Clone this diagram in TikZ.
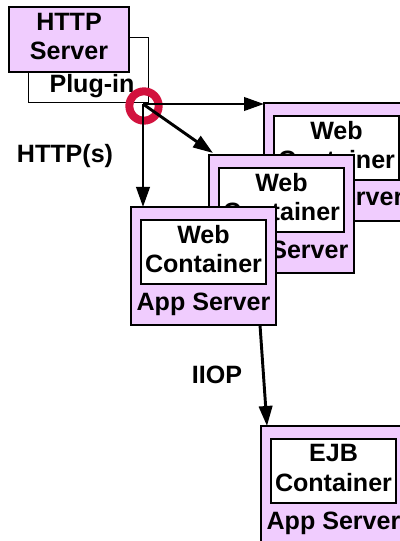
\documentclass[tikz,border=0pt]{standalone}
\usepackage{fontspec}
\setmainfont{Liberation Sans}
\usepackage{tikz}
\usetikzlibrary{arrows.meta,positioning,calc}
\usepackage{xcolor}
\definecolor{srvfill}{HTML}{F0CCFE}
\definecolor{ringred}{HTML}{D2123E}

\tikzset{
    txt/.style={font=\bfseries\fontsize{18.8pt}{22pt}\selectfont},
    srvbox/.style={draw, line width=1.5pt, fill=srvfill, minimum width=108.75pt,
          minimum height=88.5pt, inner sep=0pt, outer sep=0pt},
    contbox/.style={draw, line width=1.5pt, fill=white, minimum width=93.75pt,
          minimum height=48pt, inner sep=0pt, outer sep=0pt, align=center,
          text depth=4.5pt, txt},
    ring/.style={draw=ringred, circle, line width=6pt, minimum size=22pt, inner sep=0pt},
    flow/.style={line width=2.2pt, -{Triangle[length=15pt,width=10pt]}},
}

\begin{document}
\begin{tikzpicture}[x=0.75pt, y=-0.75pt]
    \useasboundingbox (0,0) rectangle (399,541);

    % web server with its plug-in
    \node[draw, line width=0.75pt, fill=white, minimum width=90pt,
          minimum height=48.75pt, outer sep=0pt] (plugin) at (88,70.5) {};
    \node[txt, anchor=base] (pluglbl) at (92,93) {Plug-in};
    \node[srvbox, minimum width=90pt, minimum height=48.75pt, align=center,
          text depth=4.5pt, txt] (httpsrv) at (69,39.5) {HTTP\\Server};

    % cluster of app servers, back to front
    \node[srvbox] (srv3) at (336.5,162) {};
    \node[contbox, below=9.75pt of srv3.north] (web3) {Web\\Container};
    \node[txt, anchor=base] (srv3lbl) at ($(srv3.south)+(0,-15)$) {App Server};

    \node[srvbox] (srv2) at (281.5,214) {};
    \node[contbox, below=9.75pt of srv2.north] (web2) {Web\\Container};
    \node[txt, anchor=base] (srv2lbl) at ($(srv2.south)+(0,-15)$) {App Server};

    \node[srvbox] (srv1) at (203.5,266) {};
    \node[contbox, below=9.75pt of srv1.north] (web1) {Web\\Container};
    \node[txt, anchor=base] (srv1lbl) at ($(srv1.south)+(0,-15)$) {App Server};

    % EJB tier
    \node[srvbox] (ejbsrv) at (333.5,485) {};
    \node[contbox, below=9.75pt of ejbsrv.north] (ejb) {EJB\\Container};
    \node[txt, anchor=base] (ejblbl) at ($(ejbsrv.south)+(0,-15)$) {App Server};

    % routing out of the plug-in
    \coordinate (hub) at (143,104);
    \node[ring] (joint) at (144,106) {};
    \draw[flow] (hub) -- (hub -| srv3.west);
    \draw[flow] (hub) -- ($(srv2.north west)+(4,-2)$);
    \draw[flow] (hub) -- (hub |- srv1.north);
    \draw[flow] ($(srv1.south east)+(-16,0)$) -- ($(ejbsrv.north west)+(6,0)$);

    \node[txt, anchor=base] (httplbl) at (65,163) {HTTP(s)};
    \node[txt, anchor=base] (iioplbl) at (217,383) {IIOP};
\end{tikzpicture}
\end{document}
